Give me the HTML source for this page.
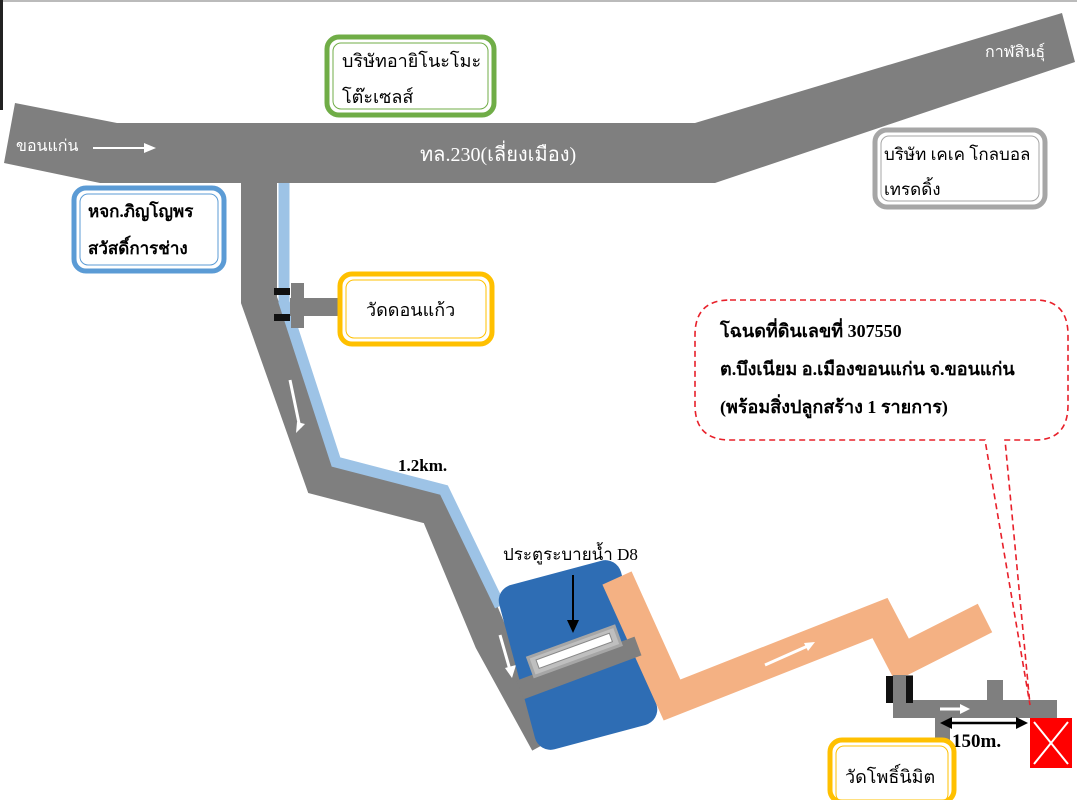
<!DOCTYPE html>
<html><head><meta charset="utf-8"><style>
html,body{margin:0;padding:0;background:#fff;}
svg{display:block;}
text{font-family:"Liberation Serif","DejaVu Serif",serif;}
</style></head><body>
<svg width="1077" height="800" viewBox="0 0 1077 800">
<rect x="0" y="0" width="1077" height="800" fill="#fff"/>
<line x1="0" y1="1" x2="1077" y2="1" stroke="#bbb" stroke-width="2"/>
<rect x="0" y="0" width="3" height="110" fill="#222"/>
<!-- main road -->
<polygon points="15,103 117,123 695,123 1062,13 1075,62 715,183 100,183 4,163" fill="#7f7f7f"/>
<!-- vertical road -->
<polyline points="259,183 259,300 322,478 437,508 492,640 548,742" fill="none" stroke="#7f7f7f" stroke-width="36" stroke-linejoin="miter"/>
<polyline points="284,183 284,302 336,462 444,490 500,606" fill="none" stroke="#9dc3e6" stroke-width="11"/>
<!-- side road to wat -->
<rect x="290" y="298" width="50" height="18" fill="#7f7f7f"/>
<rect x="291" y="283" width="13" height="45" fill="#7f7f7f"/>
<rect x="274" y="288" width="16" height="7" fill="#111"/>
<rect x="274" y="314" width="16" height="7" fill="#111"/>
<!-- arrows on road -->
<line x1="290" y1="380" x2="300" y2="428" stroke="#fff" stroke-width="3"/>
<polygon points="296,433 305,424 297,422" fill="#fff"/>
<line x1="500" y1="635" x2="510" y2="670" stroke="#fff" stroke-width="3"/>
<polygon points="512,678 516,665 505,668" fill="#fff"/>
<!-- blue block -->
<g transform="rotate(-15 578 655)"><rect x="515" y="570" width="126" height="170" rx="16" fill="#2e6db4"/></g>
<!-- orange canal -->
<polyline points="617,578 672,700 880,618 902,660 985,618" fill="none" stroke="#f4b183" stroke-width="32" stroke-linejoin="miter"/>
<line x1="765" y1="665" x2="810" y2="645" stroke="#fff" stroke-width="3"/>
<polygon points="815,642 804,643 808,651" fill="#fff"/>
<!-- gate -->
<line x1="520" y1="690" x2="638" y2="646" stroke="#7f7f7f" stroke-width="20"/>
<g transform="rotate(-20 575 650)"><rect x="528" y="641" width="92" height="20" fill="#bfbfbf" stroke="#a6a6a6" stroke-width="3"/><rect x="535" y="646" width="78" height="9" fill="#fff" stroke="#888" stroke-width="1"/></g>
<line x1="573" y1="575" x2="573" y2="625" stroke="#000" stroke-width="2"/>
<polygon points="567,620 579,620 573,633" fill="#000"/>
<text x="503" y="560" font-size="17">ประตูระบายน้ำ D8</text>
<text x="398" y="471" font-size="17" font-weight="bold">1.2km.</text>
<!-- bottom right road -->
<rect x="893" y="700" width="164" height="18" fill="#7f7f7f"/>
<rect x="893" y="675" width="20" height="30" fill="#7f7f7f"/>
<rect x="886" y="676" width="7" height="27" fill="#111"/>
<rect x="906" y="676" width="7" height="27" fill="#111"/>
<rect x="987" y="680" width="16" height="22" fill="#7f7f7f"/>
<rect x="935" y="716" width="15" height="28" fill="#7f7f7f"/>
<line x1="880" y1="710" x2="1000" y2="710" stroke="none"/>
<line x1="880" y1="709" x2="880" y2="709"/>
<line x1="882" y1="709" x2="882" y2="709"/>
<line x1="885" y1="709" x2="885" y2="709"/>
<line x1="883" y1="709" x2="883" y2="709"/>
<line x1="882" y1="709" x2="882" y2="709"/>
<line x1="882" y1="709" x2="882" y2="709"/>
<line x1="882" y1="709" x2="882" y2="709"/>
<line x1="882" y1="709" x2="882" y2="709"/>
<line x1="960" y1="710" x2="975" y2="710" stroke="none"/>
<line x1="882" y1="709" x2="882" y2="709"/>
<line x1="940" y1="709" x2="965" y2="709" stroke="none"/>
<line x1="882" y1="709" x2="882" y2="709"/>
<line x1="882" y1="709" x2="882" y2="709"/>
<line x1="882" y1="709" x2="882" y2="709"/>
<line x1="882" y1="709" x2="882" y2="709"/>
<line x1="882" y1="709" x2="882" y2="709"/>
<line x1="882" y1="709" x2="882" y2="709"/>
<line x1="882" y1="709" x2="882" y2="709"/>
<line x1="882" y1="709" x2="882" y2="709"/>
<line x1="882" y1="709" x2="882" y2="709"/>
<line x1="882" y1="709" x2="882" y2="709"/>
<line x1="882" y1="709" x2="882" y2="709"/>
<line x1="882" y1="709" x2="882" y2="709"/>
<line x1="882" y1="709" x2="882" y2="709"/>
<line x1="882" y1="709" x2="882" y2="709"/>
<line x1="882" y1="709" x2="882" y2="709"/>
<line x1="882" y1="709" x2="882" y2="709"/>
<line x1="882" y1="709" x2="882" y2="709"/>
<line x1="882" y1="709" x2="882" y2="709"/>
<line x1="882" y1="709" x2="882" y2="709"/>
<line x1="882" y1="709" x2="882" y2="709"/>
<line x1="882" y1="709" x2="882" y2="709"/>
<line x1="882" y1="709" x2="882" y2="709"/>
<line x1="882" y1="709" x2="882" y2="709"/>
<line x1="882" y1="709" x2="882" y2="709"/>
<line x1="882" y1="709" x2="882" y2="709"/>
<line x1="940" y1="709" x2="962" y2="709" stroke="#fff" stroke-width="3"/>
<polygon points="970,709 960,704 960,714" fill="#fff"/>
<line x1="948" y1="723" x2="1020" y2="723" stroke="#000" stroke-width="2.5"/>
<polygon points="940,723 952,717 952,729" fill="#000"/>
<polygon points="1028,723 1016,717 1016,729" fill="#000"/>
<text x="952" y="747" font-size="19" font-weight="bold">150m.</text>
<!-- red box -->
<rect x="1030" y="718" width="42" height="50" fill="#ff0000"/>
<line x1="1034" y1="722" x2="1068" y2="764" stroke="#fff" stroke-width="2"/>
<line x1="1068" y1="722" x2="1034" y2="764" stroke="#fff" stroke-width="2"/>
<!-- callout -->
<path d="M730,300 H1035 Q1068,300 1068,335 V405 Q1068,440 1035,440 H1005 L1030,705 L985,440 H730 Q695,440 695,405 V335 Q695,300 730,300 Z" fill="none" stroke="#e8202a" stroke-width="1.6" stroke-dasharray="6,4"/>
<text x="720" y="337" font-size="18" font-weight="bold">โฉนดที่ดินเลขที่ 307550</text>
<text x="720" y="375" font-size="18" font-weight="bold">ต.บึงเนียม อ.เมืองขอนแก่น จ.ขอนแก่น</text>
<text x="720" y="413" font-size="18" font-weight="bold">(พร้อมสิ่งปลูกสร้าง 1 รายการ)</text>
<!-- road labels -->
<text x="16" y="151" font-size="16" fill="#fff">ขอนแก่น</text>
<line x1="93" y1="148" x2="145" y2="148" stroke="#fff" stroke-width="2"/>
<polygon points="156,148 144,143 144,153" fill="#fff"/>
<text x="420" y="161" font-size="20" fill="#fff">ทล.230(เลี่ยงเมือง)</text>
<text x="985" y="57" font-size="16" fill="#fff">กาฬสินธุ์</text>
<!-- boxes -->
<g fill="#fff" stroke-width="5">
<rect x="327" y="37" width="167" height="78" rx="12" stroke="#70ad47"/>
<rect x="74" y="188" width="150" height="83" rx="12" stroke="#5b9bd5"/>
<rect x="340" y="274" width="152" height="70" rx="12" stroke="#ffc000"/>
<rect x="875" y="130" width="170" height="77" rx="12" stroke="#a6a6a6"/>
<rect x="830" y="740" width="124" height="62" rx="12" stroke="#ffc000"/>
</g>
<g fill="none" stroke-width="1">
<rect x="333" y="43" width="155" height="66" rx="8" stroke="#70ad47"/>
<rect x="80" y="194" width="138" height="71" rx="8" stroke="#5b9bd5"/>
<rect x="346" y="280" width="140" height="58" rx="8" stroke="#ffc000"/>
<rect x="881" y="136" width="158" height="65" rx="8" stroke="#a6a6a6"/>
<rect x="836" y="746" width="112" height="56" rx="8" stroke="#ffc000"/>
</g>
<text x="342" y="67" font-size="18">บริษัทอายิโนะโมะ</text>
<text x="342" y="103" font-size="18">โต๊ะเซลส์</text>
<text x="88" y="217" font-size="17" font-weight="bold">หจก.ภิญโญพร</text>
<text x="88" y="254" font-size="17" font-weight="bold">สวัสดิ์การช่าง</text>
<text x="366" y="316" font-size="18">วัดดอนแก้ว</text>
<text x="884" y="160" font-size="17">บริษัท เคเค โกลบอล</text>
<text x="884" y="195" font-size="17">เทรดดิ้ง</text>
<text x="845" y="783" font-size="18">วัดโพธิ์นิมิต</text>
</svg>
</body></html>
